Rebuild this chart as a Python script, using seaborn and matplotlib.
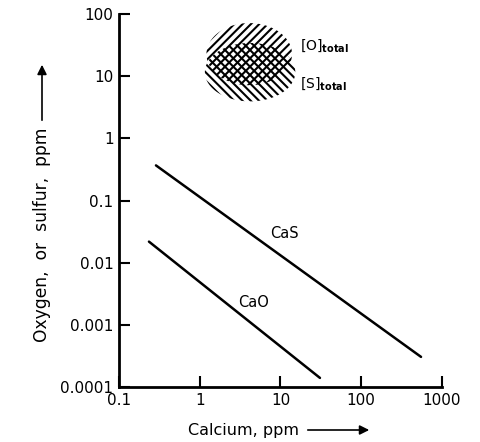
import numpy as np
import pandas as pd
import seaborn as sns
import matplotlib.pyplot as plt

# values (log-log)
calcium_cas = [0.287, 550]
sulfur_cas = [0.367, 0.000305]
calcium_cao = [0.235, 30.8]
oxygen_cao = [0.0218, 0.00014]

# total O / S blobs: centre (Ca, ppm) and half-extent in decades
blob_names = ['[O]total', '[S]total']
blob_ca = [4.1, 4.2]
blob_ppm = [22.6, 11.6]
blob_wx = [0.53, 0.56]
blob_wy = [0.5, 0.47]

x_ticks = [0.1, 1, 10, 100, 1000]
x_labels = ['0.1', '1', '10', '100', '1000']
y_ticks = [0.0001, 0.001, 0.01, 0.1, 1, 10, 100]
y_labels = ['0.0001', '0.001', '0.01', '0.1', '1', '10', '100']

df = pd.DataFrame({
    'Ca': calcium_cas + calcium_cao,
    'ppm': sulfur_cas + oxygen_cao,
    'phase': ['CaS'] * 2 + ['CaO'] * 2,
})

sns.set_style('ticks')
plt.rcParams['font.family'] = ['DejaVu Sans']
plt.rcParams['text.color'] = 'black'
plt.rcParams['xtick.color'] = 'black'
plt.rcParams['ytick.color'] = 'black'
plt.rcParams['axes.edgecolor'] = 'black'
plt.rcParams['hatch.linewidth'] = 1.5

fig = plt.figure(figsize=(4.81, 4.42), dpi=100)
ax = fig.add_axes([119 / 481, 55 / 442, 323 / 481, 373 / 442])

sns.lineplot(data=df, x='Ca', y='ppm', units='phase', estimator=None,
             color='black', linewidth=1.8, ax=ax)
ax.set_xscale('log')
ax.set_yscale('log')
ax.set_xlim(0.1, 1000)
ax.set_ylim(0.0001, 100)

t = np.linspace(0, 2 * np.pi, 100)
for i, h in enumerate(['////', '\\\\\\\\']):
    ex = blob_ca[i] * 10 ** (blob_wx[i] * np.cos(t))
    ey = blob_ppm[i] * 10 ** (blob_wy[i] * np.sin(t))
    ax.fill(ex, ey, facecolor='none', edgecolor='black', hatch=h, linewidth=0)

ax.text(17.4, 31.6, '[O]$_{\\mathbf{total}}$', fontsize=10, va='center')
ax.text(17.4, 7.7, '[S]$_{\\mathbf{total}}$', fontsize=10, va='center')
ax.text(7.4, 0.0295, 'CaS', fontsize=10.5, va='center')
ax.text(3.0, 0.00226, 'CaO', fontsize=10.5, va='center')

ax.set_xticks(x_ticks)
ax.set_xticklabels(x_labels)
ax.set_yticks(y_ticks)
ax.set_yticklabels(y_labels)
ax.minorticks_off()
ax.tick_params(direction='in', length=8, width=1.5, labelsize=11, pad=4)
for s in ['top', 'right']:
    ax.spines[s].set_visible(False)
for s in ['left', 'bottom']:
    ax.spines[s].set_linewidth(2)
ax.set_xlabel('')
ax.set_ylabel('')

fig.text(188 / 481, 1 - 430 / 442, 'Calcium, ppm', fontsize=11.5, va='center')
ax.annotate('', xy=(372 / 481, 1 - 430 / 442), xytext=(305 / 481, 1 - 430 / 442),
            xycoords='figure fraction',
            arrowprops=dict(arrowstyle='-|>', color='black', lw=1.2, mutation_scale=14))
fig.text(42 / 481, 1 - 235 / 442, 'Oxygen,  or  sulfur,  ppm', fontsize=12.3,
         rotation=90, ha='center', va='center')
ax.annotate('', xy=(42 / 481, 1 - 62 / 442), xytext=(42 / 481, 1 - 123 / 442),
            xycoords='figure fraction',
            arrowprops=dict(arrowstyle='-|>', color='black', lw=1.2, mutation_scale=14))

fig.savefig('out.png', dpi=100)
